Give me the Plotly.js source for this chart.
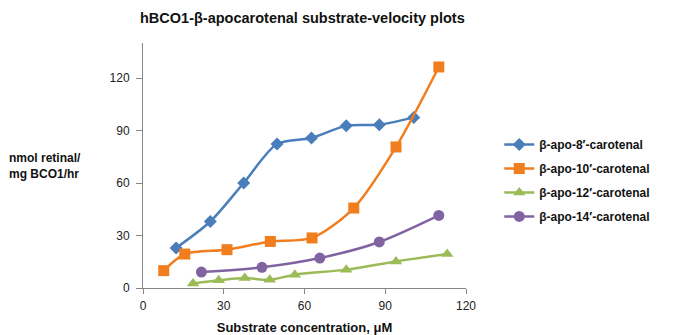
<!DOCTYPE html>
<html>
<head>
<meta charset="utf-8">
<script src="https://cdn.plot.ly/plotly-3.0.1.min.js"></script>
<style>html,body{margin:0;padding:0;background:#fff;}#chart{width:679px;height:335px;}</style>
</head>
<body>
<div id="chart"></div>
<script>
const seriesNames = ["β-apo-8′-carotenal", "β-apo-10′-carotenal", "β-apo-12′-carotenal", "β-apo-14′-carotenal"];
const apo8X = [12.3, 25, 37.4, 49.8, 62.6, 75.5, 87.8, 100.6];
const apo8Y = [22.9, 38, 60, 82.3, 85.7, 92.7, 93.3, 97.5];
const apo10X = [7.7, 15.5, 31.2, 47.3, 62.8, 78.3, 94.0, 109.9];
const apo10Y = [9.9, 19.4, 21.9, 26.6, 28.6, 45.7, 80.6, 126.3];
const apo12X = [18.6, 28.1, 37.8, 47.1, 56.4, 75.5, 94.0, 113];
const apo12Y = [2.6, 4.4, 5.7, 4.7, 7.6, 10.5, 15.2, 19.4];
const apo14X = [21.7, 44.2, 65.7, 87.8, 109.9];
const apo14Y = [9.1, 11.8, 17.1, 26.3, 41.5];
const xTicks = [0, 30, 60, 90, 120];
const yTicks = [0, 30, 60, 90, 120];

const colors = ["#4A7EBB", "#F07D1E", "#9BBB59", "#8064A2"];
const symbols = ["diamond", "square", "triangle-up", "circle"];
const sizes = [10, 11, 11, 11];
const xs = [apo8X, apo10X, apo12X, apo14X];
const ys = [apo8Y, apo10Y, apo12Y, apo14Y];

const traces = seriesNames.map((n, i) => ({
  x: xs[i], y: ys[i], name: n, type: 'scatter', mode: 'lines+markers',
  legendgroup: 'g' + i,
  line: {color: colors[i], width: 2.5, shape: 'spline', smoothing: 0.8},
  marker: {color: colors[i], symbol: symbols[i], size: sizes[i]},
  cliponaxis: false
}));

const layout = {
  width: 679, height: 335,
  margin: {l: 143, r: 213, t: 43, b: 47},
  paper_bgcolor: '#fff', plot_bgcolor: '#fff',
  font: {family: 'Arial, Liberation Sans, sans-serif', size: 12, color: '#222'},
  showlegend: true,
  title: {text: '<b>hBCO1-β-apocarotenal substrate-velocity plots</b>', x: 140/679, xanchor: 'left', y: 1 - 18/335, yanchor: 'middle', font: {size: 14.5, color: '#111'}},
  xaxis: {range: [0, 120], tickvals: xTicks, ticktext: xTicks.map(String), showgrid: false, zeroline: false,
    showline: true, linecolor: '#868686', linewidth: 1, ticks: 'outside', ticklen: 5, tickcolor: '#868686',
    ticklabelstandoff: 2,
    tickfont: {size: 12, color: '#222'},
    title: {text: '<b>Substrate concentration, μM</b>', font: {size: 13, color: '#111'}, standoff: 10}},
  yaxis: {range: [0, 140], tickvals: yTicks, ticktext: yTicks.map(String), showgrid: false, zeroline: false,
    showline: true, linecolor: '#868686', linewidth: 1, ticks: 'outside', ticklen: 6, tickcolor: '#868686',
    ticklabelstandoff: 4,
    tickfont: {size: 12, color: '#222'}},
  legend: {x: 1.103, xanchor: 'left', y: 0.645, yanchor: 'top', font: {size: 12, color: '#111', weight: 'bold'},
    tracegroupgap: 5, itemwidth: 30, bgcolor: 'rgba(0,0,0,0)'},
  annotations: [{text: '<b>nmol retinal/<br>mg BCO1/hr</b>', xref: 'paper', yref: 'paper', x: -0.42, y: 0.5,
    xanchor: 'left', yanchor: 'middle', align: 'left', showarrow: false, font: {size: 12, color: '#111'}}]
};

Plotly.newPlot('chart', traces, layout, {displayModeBar: false, staticPlot: true});
</script>
</body>
</html>
